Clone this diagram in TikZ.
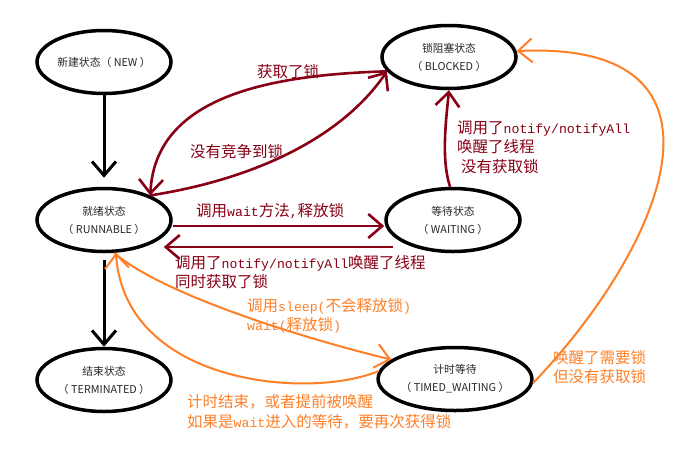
\documentclass[tikz,border=0pt]{standalone}
\usepackage{fontspec}
\setmainfont{Noto Sans CJK SC}
\setmonofont[Scale=0.85]{Liberation Mono}
\usetikzlibrary{shapes.geometric,arrows.meta}
\definecolor{lockred}{HTML}{880015}
\definecolor{timeorange}{HTML}{FF7F27}
\newcommand{\lat}[1]{{\ttfamily #1}}

\begin{document}
\begin{tikzpicture}[
    x=1pt, y=-1pt,
    >={Straight Barb[length=14pt,width=24pt]},
    phase/.style={ellipse, draw, line width=3.5pt, minimum width=134pt, minimum height=63pt,
      inner sep=0pt, align=center, text=black!85, font=\fontsize{10.8}{18}\selectfont},
    lbl/.style={anchor=west, align=left, inner sep=0pt, font=\fontsize{15.5}{19.5}\selectfont}
]
  \useasboundingbox (0,0) rectangle (691,448);

  % nodes
  \node[phase] (NEW)  at (104,62)  {新建状态（ NEW ）};
  \node[phase] (RUN)  at (104,220) {就绪状态\\（ RUNNABLE ）};
  \node[phase] (TERM) at (104,380) {结束状态\\（ TERMINATED ）};
  \node[phase] (BLK)  at (449,57)  {锁阻塞状态\\（ BLOCKED ）};
  \node[phase] (WAIT) at (453,220) {等待状态\\（ WAITING ）};
  \node[phase] (TIM)  at (455,379) {计时等待\\（ TIMED\_WAITING ）};

  % labels
  \node[lbl, lockred] (getlock)   at (257,72)  {获取了锁};
  \node[lbl, lockred] (nolock)    at (190,152) {没有竞争到锁};
  \node[lbl, lockred] (callwait)  at (196,211) {调用\lat{wait}方法\lat{,}释放锁};
  \node[lbl, lockred] (notifyrun) at (175,272) {调用了\lat{notify/notifyAll}唤醒了线程\\同时获取了锁};
  \node[lbl, lockred] (notifyblk) at (457,147) {调用了\lat{notify/notifyAll}\\唤醒了线程\\\hspace*{4pt}没有获取锁};
  \node[lbl, timeorange] (sleep)   at (247,316) {调用\lat{sleep(}不会释放锁\lat{)}\\\lat{wait(}释放锁\lat{)}};
  \node[lbl, timeorange] (timeout) at (187,412) {计时结束，或者提前被唤醒\\如果是\lat{wait}进入的等待，要再次获得锁};
  \node[lbl, timeorange] (wakeup)  at (553,367) {唤醒了需要锁\\但没有获取锁};

  % edges
  \draw[->, line width=3pt, shorten >=9pt] (NEW) -- (RUN);
  \draw[->, line width=3pt, shorten <=7pt] (RUN) -- (TERM);

  \draw[->, lockred, line width=2.6pt] (BLK.193) .. controls (260,75) and (155,100) .. (RUN.28);
  \draw[->, lockred, line width=2.6pt] (RUN.28) .. controls (250,180) and (340,140) .. (BLK.193);
  \draw[->, lockred, line width=2.6pt] ([yshift=-6pt]RUN.east) -- ([yshift=-6pt]WAIT.west);
  \draw[->, lockred, line width=2.6pt] ([xshift=9pt,yshift=-27pt]WAIT.west) -- ([xshift=-9pt,yshift=-27pt]RUN.east);
  \draw[->, lockred, line width=2.6pt] (WAIT.95) .. controls (441,160) and (446,120) .. (BLK.south);

  \draw[->, timeorange, line width=2pt] (RUN.287) .. controls (170,300) and (330,345) .. (TIM.163);
  \draw[->, timeorange, line width=2pt] (TIM.174) .. controls (310,400) and (125,385) .. (RUN.290);
  \draw[->, timeorange, line width=2pt] (TIM.357) .. controls (665,245) and (750,40) .. (BLK.5);
\end{tikzpicture}
\end{document}
